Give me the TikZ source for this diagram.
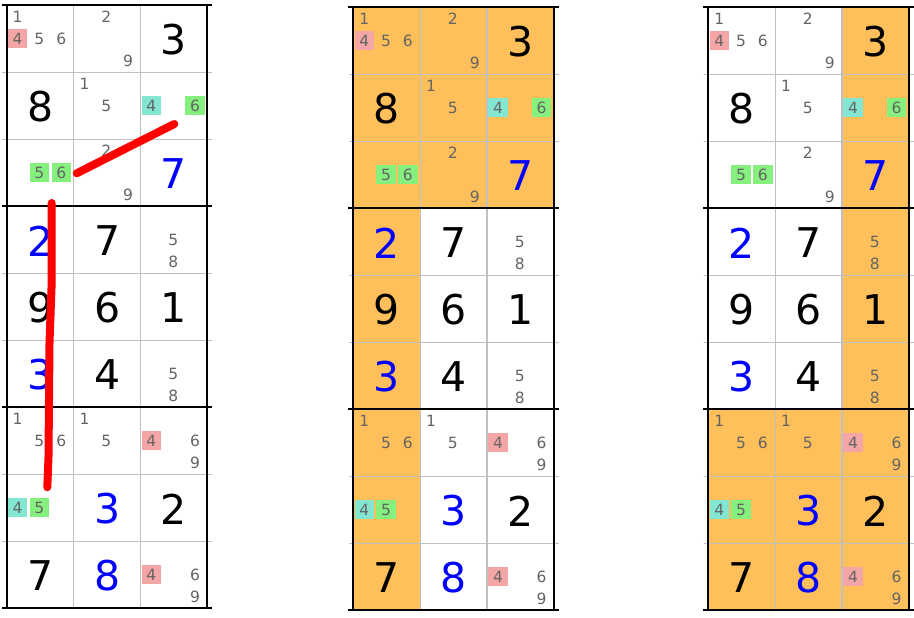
\documentclass[tikz,border=0pt]{standalone}
\usepackage{fontspec}
\setmainfont{DejaVu Sans}
\usetikzlibrary{calc}
\definecolor{hilite}{RGB}{255,191,90}
\definecolor{candpink}{RGB}{244,166,166}
\definecolor{candcyan}{RGB}{130,230,210}
\definecolor{candgreen}{RGB}{134,240,126}
\definecolor{pencil}{RGB}{100,100,100}
\definecolor{gridgray}{RGB}{192,192,192}

\begin{document}
\begin{tikzpicture}[x=1pt,y=-1pt,
    given/.style={font=\fontsize{41}{41}\selectfont, inner sep=0pt},
    pencilmark/.style={font=\fontsize{15.5}{15.5}\selectfont, text=pencil, inner sep=0pt},
    thinline/.style={gridgray, line width=1.3},
    boxline/.style={black, line width=2}]
    \useasboundingbox (0,0) rectangle (914,618);

    % Highlighted houses, middle panel
    \fill[hilite] (353.3,7.3) rectangle (554,208.3);
    \fill[hilite] (353.3,208.3) rectangle (420.2,610.3);

    % Highlighted houses, right panel
    \fill[hilite] (842.1,7.3) rectangle (909,409.3);
    \fill[hilite] (708.3,409.3) rectangle (909,610.3);

    \foreach \px/\py/\pn in {6.7/5.3/A, 353.3/7.3/B, 708.3/7.3/C} {
        \begin{scope}[shift={(\px,\py)}]
            % Candidate colours
            \foreach \r/\c/\d/\col in {0/0/4/candpink, 1/2/4/candcyan, 1/2/6/candgreen,
                    2/0/5/candgreen, 2/0/6/candgreen, 6/2/4/candpink,
                    7/0/4/candcyan, 7/0/5/candgreen, 8/2/4/candpink} {
                \pgfmathsetmacro{\hx}{\c*66.9 + 10.9 + 21.8*mod(\d-1,3)}
                \pgfmathsetmacro{\hy}{\r*67 + 10.4 + 22.4*int((\d-1)/3)}
                \fill[\col] (\hx-9.7,\hy-9.5) rectangle (\hx+9.7,\hy+9.5);
            }

            % Grid
            \foreach \r in {1,2,4,5,7,8}
                \draw[thinline] (-4.5,\r*67) -- (205.2,\r*67);
            \foreach \c in {1,2}
                \draw[thinline] (\c*66.9,0) -- (\c*66.9,603);
            \foreach \r in {0,3,6,9}
                \draw[boxline] (-5,\r*67) -- (205.7,\r*67);
            \foreach \c in {0,3}
                \draw[boxline] (\c*66.9,0) -- (\c*66.9,603);

            % Givens and solved cells
            \foreach \r/\c/\d/\col in {0/2/3/black, 1/0/8/black, 2/2/7/blue,
                    3/0/2/blue, 3/1/7/black, 4/0/9/black, 4/1/6/black, 4/2/1/black,
                    5/0/3/blue, 5/1/4/black, 7/1/3/blue, 7/2/2/black,
                    8/0/7/black, 8/1/8/blue}
                \node[given, text=\col] (\pn-given-\r-\c) at ({\c*66.9+33.5},{\r*67+34.5}) {\d};

            % Pencil marks
            \foreach \r/\c/\d in {0/0/1, 0/0/4, 0/0/5, 0/0/6, 0/1/2, 0/1/9,
                    1/1/1, 1/1/5, 1/2/4, 1/2/6, 2/0/5, 2/0/6, 2/1/2, 2/1/9,
                    3/2/5, 3/2/8, 5/2/5, 5/2/8, 6/0/1, 6/0/5, 6/0/6,
                    6/1/1, 6/1/5, 6/2/4, 6/2/6, 6/2/9, 7/0/4, 7/0/5,
                    8/2/4, 8/2/6, 8/2/9}
                \node[pencilmark] (\pn-cand-\r-\c-\d) at ({\c*66.9+10.9+21.8*mod(\d-1,3)},{\r*67+11.2+22.4*int((\d-1)/3)}) {\d};
        \end{scope}
    }

    % Strong links, left panel
    \coordinate (linkA) at (76.7,173.3);
    \coordinate (linkB) at (174.3,124);
    \coordinate (linkC) at (51.7,203);
    \coordinate (linkD) at (47.3,487.3);
    \draw[red, line width=8, line cap=round] (linkA) -- (linkB);
    \draw[red, line width=8, line cap=round, line join=round]
        (linkC) -- (51.5,288) -- (49.5,343) -- (48.5,457) -- (linkD);
\end{tikzpicture}
\end{document}
